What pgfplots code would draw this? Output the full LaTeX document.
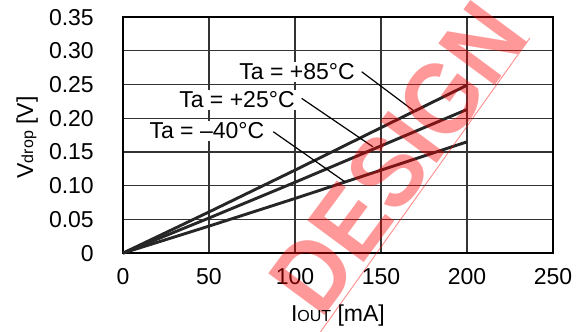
\documentclass[border=0pt]{standalone}
\usepackage{fontspec}
\setmainfont{Liberation Sans}
\usepackage{pgfplots}
\pgfplotsset{compat=1.18}
\begin{document}
\begin{tikzpicture}
\begin{axis}[
  width=430pt, height=236pt, scale only axis,
  xmin=0, xmax=250, ymin=0, ymax=0.35,
  xtick={0,50,100,150,200,250}, xticklabels={0,50,100,150,200,250},
  ytick={0,0.05,0.1,0.15,0.2,0.25,0.3,0.35},
  yticklabels={0,0.05,0.10,0.15,0.20,0.25,0.30,0.35},
  grid=major, major grid style={line width=1.2pt, black!80},
  major tick length=0pt,
  axis line style={line width=2.6pt, black},
  tick label style={font=\fontsize{23}{26}\selectfont},
  yticklabel style={inner sep=0pt, anchor=east, xshift=-29pt},
  xticklabel style={inner sep=0pt, anchor=north, yshift=-15pt},
  xlabel={I{\fontsize{16}{16}\selectfont OUT} [mA]},
  ylabel={V{\fontsize{16}{16}\selectfont drop} [V]},
  label style={font=\fontsize{23}{26}\selectfont},
  xlabel style={at={(axis description cs:0.5,-0.263)}, anchor=center},
  ylabel style={at={(axis description cs:-0.223,0.49)}, anchor=center},
  clip=false,
]
\path (axis cs:-71.5,0.3754) rectangle (axis cs:266.9,-0.1157);
\addplot[black!85, line width=2.9pt] coordinates {(0,0)(50,0.061)(100,0.123)(150,0.186)(200,0.249)};
\addplot[black!85, line width=2.9pt] coordinates {(0,0)(50,0.052)(100,0.105)(150,0.159)(200,0.213)};
\addplot[black!85, line width=2.9pt] coordinates {(0,0)(50,0.040)(100,0.081)(150,0.123)(200,0.165)};
\draw[black, line width=1.2pt] (axis cs:138.8,0.269) -- (axis cs:168.6,0.212);
\draw[black, line width=1.2pt] (axis cs:103.9,0.2295) -- (axis cs:145.3,0.1577);
\draw[black, line width=1.2pt] (axis cs:87.4,0.18) -- (axis cs:129,0.1058);
\node[fill=white, inner sep=1.5pt, font=\fontsize{23}{26}\selectfont] at (axis cs:101.2,0.2685) {Ta = +85°C};
\node[fill=white, inner sep=1.5pt, font=\fontsize{23}{26}\selectfont] at (axis cs:66.3,0.227) {Ta = +25°C};
\node[fill=white, inner sep=1.5pt, font=\fontsize{23}{26}\selectfont] at (axis cs:48.8,0.181) {Ta = –40°C};
\node[overlay, rotate=53.5, text=red, opacity=0.4, inner sep=0pt, font=\bfseries\fontsize{102}{106}\selectfont] at (axis cs:159.9,0.141) {\scalebox{0.9}[1]{DESIGN}};
\draw[overlay, red, opacity=0.45, line width=0.9pt] (axis cs:100,-0.17) -- (axis cs:236.6,0.319);
\end{axis}
\end{tikzpicture}
\end{document}
